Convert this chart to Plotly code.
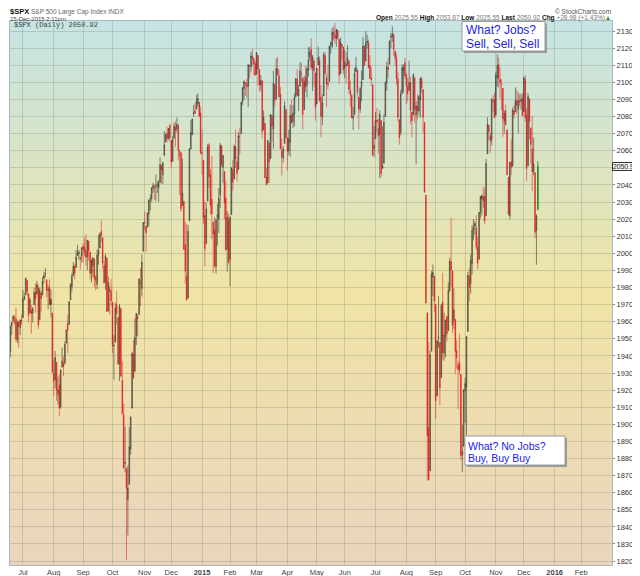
import pandas as pd
import plotly.graph_objects as go

# market holidays (trading days are weekdays minus these)
holidays = ["2014-07-04", "2014-09-01", "2014-11-27", "2014-12-25",
            "2015-01-01", "2015-01-19", "2015-02-16", "2015-04-03",
            "2015-05-25", "2015-07-03", "2015-09-07", "2015-11-26",
            "2015-12-25", "2016-01-01", "2016-01-18", "2016-02-15"]

first_day = "2014-06-18"
last_day = "2015-12-15"
prev_close = 1941.99  # close on 2014-06-17

opens = [
    # Jun 2014
    1942.7, 1957.5, 1960.5, 1962.9, 1961.9, 1949.3, 1959.9, 1956.6, 1960.8,
    # Jul
    1962.3, 1973.1, 1975.9, 1984.2, 1976.4, 1965.1, 1966.7, 1965.0, 1969.9, 1977.4, 1976.4,
    1979.8, 1961.5, 1976.9, 1975.6, 1985.3, 1988.1, 1984.6, 1978.3, 1980.0, 1973.2, 1965.1,
    # Aug
    1929.8, 1926.0, 1936.3, 1917.3, 1923.0, 1910.4, 1933.4, 1935.7, 1935.6, 1947.4, 1958.9,
    1958.4, 1972.7, 1980.5, 1986.8, 1992.6, 1991.7, 1998.6, 2000.5, 1997.4, 1998.5,
    # Sep
    2004.1, 2003.6, 2001.7, 1998.0, 2007.2, 2000.7, 1988.4, 1992.9, 1996.7, 1986.0, 1981.9,
    1999.3, 2003.1, 2012.7, 2009.1, 1992.8, 1983.3, 1997.3, 1966.2, 1978.96, 1978.2,
    # Oct
    1971.4, 1945.8, 1948.1, 1970.0, 1962.4, 1935.6, 1967.7, 1925.6, 1905.7, 1877.1, 1874.2,
    1855.95, 1864.9, 1885.6, 1909.4, 1941.3, 1931.0, 1951.6, 1962.97, 1964.1, 1983.3, 1979.5, 2001.2,
    # Nov
    2018.2, 2015.8, 2015.3, 2023.3, 2032.0, 2032.0, 2038.2, 2037.8, 2039.2, 2039.7, 2038.3,
    2041.5, 2051.2, 2045.9, 2057.5, 2065.1, 2070.1, 2067.4, 2074.8,
    # Dec
    2065.8, 2053.8, 2067.5, 2073.6, 2072.8, 2074.8, 2056.6, 2058.9, 2027.9, 2030.4, 2005.0,
    1986.7, 1973.8, 2018.98, 2061.0, 2069.3, 2081.5, 2083.3, 2084.3, 2087.6, 2088.5, 2082.1,
    # Jan 2015
    2058.9, 2054.4, 2022.2, 2005.6, 2030.6, 2063.5, 2046.1, 2031.6, 2018.4, 2013.8, 1992.3,
    2020.8, 2020.2, 2034.3, 2062.98, 2050.4, 2047.9, 2032.3, 2002.5, 2019.4,
    # Feb
    1996.7, 2022.7, 2048.9, 2043.5, 2062.3, 2053.5, 2049.4, 2068.6, 2069.98, 2088.8, 2096.5,
    2099.2, 2099.3, 2097.7, 2109.8, 2109.1, 2115.3, 2113.9, 2110.9,
    # Mar
    2105.2, 2115.8, 2107.7, 2098.5, 2100.9, 2072.3, 2076.1, 2044.7, 2041.1, 2064.6, 2055.4,
    2080.6, 2072.8, 2098.7, 2090.3, 2107.99, 2103.9, 2093.1, 2059.9, 2055.8, 2064.1, 2084.1,
    # Apr
    2067.6, 2060.0, 2064.9, 2080.8, 2076.9, 2081.3, 2091.5, 2102.0, 2092.3, 2097.8, 2105.0,
    2102.6, 2084.1, 2102.8, 2098.3, 2107.2, 2114.8, 2119.3, 2108.4, 2112.5, 2105.5,
    # May
    2087.4, 2110.2, 2112.6, 2091.3, 2079.96, 2092.1, 2115.6, 2102.9, 2099.6, 2100.4, 2122.1,
    2121.3, 2129.5, 2127.8, 2125.6, 2130.4, 2125.3, 2105.1, 2122.3, 2120.7,
    # Jun
    2108.6, 2110.4, 2110.6, 2112.4, 2095.1, 2092.3, 2079.1, 2081.1, 2106.2, 2107.4, 2091.3,
    2084.3, 2097.4, 2101.6, 2121.1, 2112.5, 2123.2, 2123.2, 2109.96, 2102.6, 2098.6, 2061.2,
    # Jul
    2067.0, 2078.0, 2073.0, 2069.5, 2077.7, 2049.7, 2052.7, 2080.0, 2099.7, 2109.0, 2110.6,
    2126.8, 2126.9, 2127.6, 2118.2, 2114.2, 2102.2, 2078.2, 2070.8, 2093.5, 2106.8, 2111.6,
    # Aug
    2104.5, 2097.7, 2095.3, 2100.1, 2082.6, 2080.98, 2102.7, 2081.1, 2086.2, 2083.2, 2089.7,
    2101.8, 2095.7, 2076.6, 2034.1, 1965.2, 1898.1, 1872.8, 1942.8, 1986.1, 1986.7,
    # Sep
    1970.1, 1916.5, 1950.8, 1947.8, 1927.3, 1971.5, 1941.6, 1951.5, 1963.1, 1955.1, 1978.0,
    1995.3, 1989.7, 1960.8, 1961.4, 1943.2, 1934.8, 1935.9, 1929.2, 1881.9, 1887.1,
    # Oct
    1919.7, 1921.8, 1954.3, 1986.6, 1982.3, 1994.0, 2013.7, 2015.7, 2015.0, 2003.7, 1996.5,
    2024.4, 2031.7, 2033.1, 2033.5, 2021.9, 2058.2, 2075.1, 2068.8, 2066.5, 2088.4, 2090.0,
    # Nov
    2080.8, 2102.6, 2110.6, 2101.7, 2098.6, 2096.6, 2077.2, 2083.4, 2072.3, 2044.6, 2022.1,
    2053.7, 2051.0, 2083.7, 2082.8, 2089.4, 2084.4, 2089.3, 2088.8, 2090.95,
    # Dec
    2082.9, 2101.7, 2080.7, 2051.2, 2090.4, 2073.4, 2061.2, 2047.9, 2047.3, 2013.4, 2025.55,
]

highs = [
    1957.7, 1959.9, 1963.9, 1963.7, 1968.2, 1960.8, 1959.9, 1961.5, 1964.2,
    1978.6, 1976.7, 1985.6, 1984.2, 1976.4, 1974.2, 1969.8, 1968.7, 1979.9, 1982.5, 1983.9,
    1981.8, 1979.9, 1976.9, 1986.2, 1989.2, 1991.4, 1984.6, 1981.5, 1984.8, 1978.9, 1965.1,
    1937.4, 1942.9, 1936.3, 1927.9, 1928.9, 1932.4, 1944.9, 1939.7, 1948.4, 1955.2, 1964.0,
    1971.99, 1982.6, 1988.6, 1994.8, 1993.5, 2001.95, 2005.0, 2002.1, 1998.6, 2003.4,
    2006.1, 2009.3, 2011.2, 2007.8, 2007.2, 2001.0, 1996.7, 1997.7, 1996.7, 1987.2, 2002.3,
    2010.7, 2012.3, 2019.3, 2009.1, 1995.4, 1999.8, 1997.3, 1986.4, 1981.3, 1985.2,
    1971.4, 1952.3, 1971.2, 1977.8, 1962.4, 1970.4, 1967.7, 1936.98, 1912.1, 1898.7, 1874.2,
    1876.0, 1898.2, 1905.0, 1942.45, 1949.3, 1961.95, 1965.3, 1964.6, 1985.1, 1991.4, 1999.4, 2018.2,
    2024.5, 2015.98, 2023.8, 2031.6, 2034.3, 2038.7, 2041.3, 2040.3, 2046.2, 2042.2, 2043.1,
    2056.1, 2052.1, 2053.8, 2071.5, 2070.2, 2074.2, 2073.3, 2075.8,
    2065.8, 2068.8, 2076.3, 2077.3, 2079.5, 2075.8, 2060.6, 2058.9, 2055.5, 2030.4, 2018.7,
    2016.9, 2016.8, 2061.3, 2077.9, 2078.8, 2086.7, 2087.6, 2092.7, 2093.6, 2088.5, 2085.6,
    2072.4, 2054.4, 2030.3, 2029.6, 2064.1, 2064.4, 2049.3, 2056.9, 2018.4, 2021.4, 2020.5,
    2028.9, 2038.3, 2064.6, 2062.98, 2057.6, 2047.9, 2042.5, 2024.6, 2023.3,
    2021.7, 2050.3, 2054.7, 2063.6, 2072.4, 2056.2, 2070.9, 2073.5, 2088.5, 2097.0, 2101.3,
    2100.2, 2102.1, 2110.6, 2110.1, 2117.9, 2119.6, 2113.9, 2112.7,
    2117.5, 2115.8, 2107.7, 2104.3, 2100.9, 2083.5, 2076.1, 2050.1, 2066.4, 2064.6, 2081.4,
    2080.6, 2106.9, 2098.7, 2113.9, 2114.9, 2107.6, 2097.4, 2067.1, 2062.8, 2088.97, 2084.1,
    2067.6, 2072.2, 2086.99, 2089.8, 2086.7, 2093.3, 2102.6, 2107.7, 2098.6, 2111.9, 2111.3,
    2102.6, 2103.9, 2109.6, 2108.9, 2120.5, 2120.9, 2125.9, 2116.0, 2113.7, 2105.5,
    2108.4, 2120.95, 2115.2, 2098.4, 2092.9, 2117.7, 2117.7, 2105.1, 2110.2, 2121.5, 2123.9,
    2131.8, 2133.0, 2134.7, 2131.4, 2130.4, 2125.3, 2126.2, 2122.3, 2120.7,
    2119.2, 2117.6, 2121.9, 2112.9, 2100.99, 2093.0, 2085.6, 2108.5, 2115.0, 2107.4, 2091.3,
    2097.4, 2106.8, 2126.7, 2121.6, 2129.87, 2128.0, 2125.1, 2116.0, 2108.9, 2098.6, 2074.3,
    2082.8, 2085.1, 2078.6, 2083.7, 2077.7, 2074.3, 2081.3, 2100.7, 2111.98, 2114.1, 2124.4,
    2128.9, 2132.8, 2128.9, 2118.5, 2116.9, 2106.0, 2078.2, 2095.6, 2110.6, 2110.5, 2114.2,
    2105.7, 2102.5, 2112.7, 2103.3, 2082.6, 2105.4, 2102.7, 2089.1, 2092.9, 2092.5, 2102.9,
    2103.5, 2096.2, 2076.6, 2034.1, 1965.2, 1948.0, 1943.1, 1989.6, 1993.5, 1986.7,
    1970.1, 1948.9, 1975.0, 1947.8, 1970.4, 1988.6, 1965.3, 1961.1, 1963.1, 1983.2, 1997.3,
    2020.9, 1989.7, 1979.6, 1961.4, 1949.5, 1937.2, 1952.9, 1929.2, 1899.5, 1920.5,
    1927.2, 1951.4, 1989.2, 1991.6, 1999.3, 2016.5, 2020.1, 2018.7, 2022.3, 2009.6, 2024.2,
    2033.5, 2034.5, 2039.1, 2037.97, 2055.2, 2079.7, 2075.1, 2070.4, 2090.4, 2092.5, 2094.3,
    2106.2, 2116.5, 2114.6, 2108.8, 2101.9, 2096.6, 2083.7, 2086.9, 2072.3, 2044.6, 2053.2,
    2066.7, 2085.3, 2086.7, 2097.1, 2095.6, 2094.1, 2093.0, 2093.3, 2093.8,
    2103.4, 2104.3, 2085.0, 2093.8, 2090.4, 2073.4, 2080.3, 2067.7, 2047.3, 2022.9, 2053.87,
]

lows = [
    1939.3, 1952.3, 1959.2, 1958.2, 1948.3, 1947.5, 1944.7, 1952.2, 1958.2,
    1962.3, 1972.6, 1975.9, 1974.9, 1959.5, 1965.1, 1952.9, 1959.6, 1969.9, 1965.3, 1975.7,
    1955.6, 1960.8, 1965.8, 1975.6, 1982.4, 1985.8, 1974.4, 1967.3, 1969.9, 1962.4, 1930.0,
    1916.4, 1921.2, 1913.8, 1911.5, 1904.8, 1909.0, 1933.4, 1928.3, 1935.6, 1947.4, 1941.5,
    1958.4, 1972.7, 1977.7, 1986.8, 1984.8, 1991.7, 1998.6, 1996.2, 1990.5, 1994.6,
    1994.9, 1998.1, 1992.5, 1990.1, 1995.6, 1984.6, 1982.99, 1985.9, 1980.3, 1978.5, 1979.1,
    1993.3, 2003.1, 2006.6, 1991.0, 1982.4, 1978.6, 1965.99, 1966.2, 1964.0, 1968.96,
    1941.7, 1926.0, 1948.1, 1958.4, 1935.1, 1925.3, 1927.6, 1906.05, 1874.1, 1871.8, 1820.66,
    1835.0, 1864.9, 1882.3, 1909.4, 1926.8, 1931.0, 1946.3, 1951.4, 1964.1, 1969.0, 1974.75, 2001.2,
    2013.7, 2001.0, 2015.3, 2015.9, 2025.1, 2030.2, 2035.3, 2031.3, 2030.4, 2035.2, 2030.2,
    2041.5, 2040.4, 2040.5, 2056.8, 2065.1, 2064.8, 2066.4, 2065.1,
    2049.6, 2053.8, 2066.7, 2062.3, 2070.8, 2054.3, 2034.2, 2024.3, 2027.9, 2002.3, 1982.3,
    1972.6, 1973.8, 2018.98, 2061.0, 2069.3, 2079.8, 2081.8, 2084.3, 2085.8, 2079.5, 2057.9,
    2046.0, 2017.3, 1992.4, 2005.6, 2030.6, 2038.3, 2022.6, 2008.3, 1988.4, 1991.5, 1988.1,
    2004.5, 2012.0, 2026.4, 2050.5, 2040.97, 2019.9, 2001.5, 1989.2, 1993.4,
    1980.9, 2022.7, 2036.7, 2043.5, 2049.97, 2041.9, 2048.6, 2057.99, 2069.98, 2086.7, 2089.8,
    2092.2, 2090.8, 2085.4, 2102.5, 2105.9, 2109.9, 2103.8, 2103.8,
    2104.5, 2098.3, 2094.5, 2095.2, 2067.3, 2072.2, 2044.1, 2039.7, 2041.1, 2041.2, 2055.4,
    2065.1, 2061.2, 2085.6, 2090.3, 2104.4, 2091.5, 2061.0, 2045.5, 2052.96, 2064.1, 2067.0,
    2048.4, 2057.3, 2056.5, 2076.1, 2073.3, 2074.3, 2091.5, 2092.3, 2083.2, 2097.8, 2100.0,
    2072.4, 2084.1, 2094.4, 2091.1, 2103.2, 2112.8, 2107.0, 2094.9, 2097.4, 2077.6,
    2087.4, 2110.2, 2088.5, 2067.9, 2074.99, 2092.1, 2104.6, 2085.4, 2096.0, 2100.4, 2116.8,
    2120.0, 2124.5, 2122.6, 2120.9, 2125.1, 2099.2, 2105.1, 2112.8, 2104.9,
    2102.5, 2099.1, 2109.6, 2093.2, 2085.7, 2079.1, 2072.1, 2081.1, 2106.2, 2091.3, 2072.5,
    2082.1, 2088.9, 2101.6, 2109.5, 2112.5, 2119.9, 2108.2, 2102.0, 2098.0, 2056.6, 2056.3,
    2067.0, 2071.0, 2058.4, 2044.0, 2044.5, 2049.7, 2052.7, 2080.0, 2095.0, 2102.5, 2110.6,
    2119.9, 2123.7, 2115.4, 2110.0, 2098.6, 2077.1, 2063.5, 2069.1, 2093.5, 2094.1, 2102.1,
    2087.3, 2088.6, 2095.3, 2075.5, 2067.9, 2080.98, 2076.5, 2052.1, 2078.3, 2080.6, 2079.3,
    2094.1, 2070.5, 2035.7, 1970.8, 1867.0, 1867.1, 1872.8, 1942.8, 1975.2, 1965.98,
    1903.1, 1916.5, 1944.7, 1911.2, 1927.3, 1937.9, 1937.2, 1939.2, 1948.3, 1954.3, 1977.9,
    1980.5, 1953.5, 1955.8, 1929.2, 1932.6, 1908.9, 1929.0, 1879.2, 1871.9, 1887.1,
    1900.7, 1893.7, 1954.3, 1971.99, 1976.4, 1987.5, 2007.6, 2010.6, 2001.8, 1990.7, 1996.5,
    2020.5, 2022.3, 2026.6, 2017.2, 2021.9, 2058.2, 2066.5, 2058.8, 2063.1, 2082.6, 2079.1,
    2080.8, 2097.5, 2096.98, 2090.4, 2083.7, 2068.2, 2069.9, 2074.9, 2045.7, 2022.0, 2019.9,
    2045.9, 2051.0, 2078.8, 2082.8, 2081.4, 2070.3, 2086.3, 2084.1, 2080.4,
    2082.9, 2077.1, 2042.4, 2051.2, 2066.8, 2052.3, 2036.5, 2045.7, 2008.8, 1993.3, 2025.55,
]

closes = [
    1956.98, 1959.48, 1962.87, 1962.61, 1949.98, 1959.53, 1957.22, 1960.96, 1960.23,
    1973.32, 1974.62, 1985.44, 1977.65, 1963.71, 1972.83, 1964.68, 1967.57, 1977.10, 1973.28, 1981.57,
    1958.12, 1978.22, 1973.63, 1983.53, 1987.01, 1987.98, 1978.34, 1978.91, 1969.95, 1970.07, 1930.67,
    1925.15, 1938.99, 1920.21, 1920.24, 1909.57, 1931.59, 1936.92, 1933.75, 1946.72, 1955.18, 1955.06,
    1971.74, 1981.60, 1986.51, 1992.37, 1988.40, 1997.92, 2000.02, 2000.12, 1996.74, 2003.37,
    2002.28, 2000.72, 1997.65, 2007.71, 2001.54, 1988.44, 1995.69, 1997.45, 1985.54, 1984.13, 1998.98,
    2001.57, 2011.36, 2010.40, 1994.29, 1982.77, 1998.30, 1965.99, 1982.85, 1977.80, 1972.29,
    1946.16, 1946.17, 1967.90, 1964.82, 1935.10, 1968.89, 1928.21, 1906.13, 1874.74, 1877.70, 1862.49,
    1862.76, 1886.76, 1904.01, 1941.28, 1927.11, 1950.82, 1964.58, 1961.63, 1985.05, 1982.30, 1994.65, 2018.05,
    2017.81, 2012.10, 2023.57, 2031.21, 2031.92, 2038.26, 2039.68, 2038.25, 2039.33, 2039.82, 2041.32,
    2051.80, 2048.72, 2052.75, 2063.50, 2069.41, 2067.03, 2072.83, 2067.56,
    2053.44, 2066.55, 2074.33, 2071.92, 2075.37, 2060.31, 2059.82, 2026.14, 2035.33, 2002.33, 1989.63,
    1972.74, 2012.89, 2061.23, 2070.65, 2078.54, 2082.17, 2081.88, 2088.77, 2090.57, 2080.35, 2058.90,
    2058.20, 2020.58, 2002.61, 2025.90, 2062.14, 2044.81, 2028.26, 2023.03, 2011.27, 1992.67, 2019.42,
    2022.55, 2032.12, 2063.15, 2051.82, 2057.09, 2029.55, 2002.16, 2021.25, 1994.99,
    2020.85, 2050.03, 2041.51, 2062.52, 2055.47, 2046.74, 2068.59, 2068.53, 2088.48, 2096.99, 2100.34,
    2099.68, 2097.45, 2110.30, 2109.66, 2115.48, 2113.86, 2110.74, 2104.50,
    2117.39, 2107.78, 2098.53, 2101.04, 2071.26, 2079.43, 2044.16, 2040.24, 2065.95, 2053.40, 2081.19,
    2074.28, 2099.50, 2089.27, 2108.10, 2104.42, 2091.50, 2061.05, 2056.15, 2061.02, 2086.24, 2067.89,
    2059.69, 2066.96, 2080.62, 2076.33, 2081.90, 2091.18, 2102.06, 2092.43, 2095.84, 2106.63, 2104.99,
    2081.18, 2100.40, 2097.29, 2107.96, 2112.93, 2117.69, 2108.92, 2114.76, 2106.85, 2085.51,
    2108.29, 2114.49, 2089.46, 2080.15, 2088.00, 2116.10, 2105.33, 2099.12, 2098.48, 2121.10, 2122.73,
    2129.20, 2127.83, 2125.85, 2130.82, 2126.06, 2104.20, 2123.48, 2120.79, 2107.39,
    2111.73, 2109.60, 2114.07, 2095.84, 2092.83, 2079.28, 2080.15, 2105.20, 2108.86, 2094.11, 2084.43,
    2096.29, 2100.44, 2121.24, 2109.99, 2122.85, 2124.20, 2108.58, 2102.31, 2101.49, 2057.64, 2063.11,
    2077.42, 2076.78, 2068.76, 2081.34, 2046.68, 2051.31, 2076.62, 2099.60, 2108.95, 2107.40, 2124.29,
    2126.64, 2128.28, 2119.21, 2114.15, 2102.15, 2079.65, 2067.64, 2093.25, 2108.57, 2108.63, 2103.84,
    2098.04, 2093.32, 2099.84, 2083.56, 2077.57, 2104.18, 2084.07, 2086.05, 2083.39, 2091.54, 2102.44,
    2096.92, 2079.61, 2035.73, 1970.89, 1893.21, 1867.61, 1940.51, 1987.66, 1988.87, 1972.18,
    1913.85, 1948.86, 1951.13, 1921.22, 1969.41, 1942.04, 1952.29, 1961.05, 1953.03, 1978.09, 1995.31,
    1990.20, 1958.03, 1966.97, 1942.74, 1938.76, 1932.24, 1931.34, 1881.77, 1884.09, 1920.03,
    1923.82, 1951.36, 1987.05, 1979.92, 1995.83, 2013.43, 2014.89, 2017.46, 2003.69, 1994.24, 2023.86,
    2033.11, 2033.66, 2030.77, 2018.94, 2052.51, 2075.15, 2071.18, 2065.89, 2090.35, 2089.41, 2079.36,
    2104.05, 2109.79, 2102.31, 2099.93, 2099.20, 2078.58, 2081.72, 2075.00, 2045.97, 2023.04, 2053.19,
    2050.44, 2083.58, 2081.24, 2089.17, 2086.59, 2089.14, 2088.87, 2090.11, 2080.41,
    2102.63, 2079.51, 2049.62, 2091.69, 2077.07, 2063.59, 2047.62, 2052.23, 2012.37, 2021.94, 2050.92,
]

month_ticks = ["2014-07-01", "2014-08-01", "2014-09-02", "2014-10-01", "2014-11-03",
               "2014-12-01", "2015-01-02", "2015-02-02", "2015-03-02", "2015-04-01",
               "2015-05-01", "2015-06-01", "2015-07-01", "2015-08-03", "2015-09-01",
               "2015-10-01", "2015-11-02", "2015-12-01", "2016-01-04", "2016-02-01"]
month_labels = ["Jul", "Aug", "Sep", "Oct", "Nov", "Dec", "<b>2015</b>", "Feb", "Mar", "Apr",
                "May", "Jun", "Jul", "Aug", "Sep", "Oct", "Nov", "Dec", "<b>2016</b>", "Feb"]

price_ticks = [1820, 1830, 1840, 1850, 1860, 1870, 1880, 1890, 1900, 1910, 1920,
               1930, 1940, 1950, 1960, 1970, 1980, 1990, 2000, 2010, 2020, 2030,
               2040, 2050, 2060, 2070, 2080, 2090, 2100, 2110, 2120, 2130]

dates = [d for d in pd.bdate_range(first_day, last_day) if d.strftime("%Y-%m-%d") not in holidays]

# the page body adds an 8px offset, so the figure is drawn 8px smaller
# and everything below is laid out in window pixels
OFF = 8
W, H = 640, 576
PL, PR, PT, PB = 10, 612, 21, 565   # plot area in window pixels


def px(x):
    return (x - PL) / (PR - PL)


def py(y):
    return (PB - y) / (PB - PT)


def mix(c1, c2, t):
    return tuple(round(a + (b - a) * t) for a, b in zip(c1, c2))


fig = go.Figure()

n = len(dates)
# stockcharts style: colour from close vs previous close, hollow/filled from close vs open
before = [prev_close] + closes[:-1]
black_idx = [i for i in range(n - 1) if closes[i] >= before[i]]
red_idx = [i for i in range(n - 1) if closes[i] < before[i]]


def pick(seq, idx):
    return [seq[i] for i in idx]


for idx, line_c, body_c, hollow_c in [
        (black_idx, "rgba(40,40,30,0.55)", "#111111", "rgba(40,40,30,0.35)"),
        (red_idx, "rgba(225,30,30,0.55)", "#e00000", "rgba(225,30,30,0.35)")]:
    fig.add_trace(go.Candlestick(
        x=pick(dates, idx), open=pick(opens, idx), high=pick(highs, idx),
        low=pick(lows, idx), close=pick(closes, idx),
        increasing=dict(line=dict(color=line_c, width=1), fillcolor=hollow_c),
        decreasing=dict(line=dict(color=line_c, width=1), fillcolor=body_c),
        whiskerwidth=0, showlegend=False, hoverinfo="skip",
    ))
fig.add_trace(go.Candlestick(
    x=dates[n - 1:], open=opens[n - 1:], high=highs[n - 1:], low=lows[n - 1:], close=closes[n - 1:],
    increasing=dict(line=dict(color="#2f8f2f", width=1), fillcolor="#2f8f2f"),
    decreasing=dict(line=dict(color="#2f8f2f", width=1), fillcolor="#2f8f2f"),
    whiskerwidth=0, showlegend=False, hoverinfo="skip",
))

# gradient background
bottom_c, mid_c, top_c = (234, 212, 190), (239, 228, 165), (197, 228, 228)
shapes = []
bands = 90
for i in range(bands):
    t = (i + 0.5) / bands
    if t < 0.5:
        c = mix(bottom_c, mid_c, t / 0.5)
    else:
        c = mix(mid_c, top_c, (t - 0.5) / 0.5)
    shapes.append(dict(type="rect", xref="x domain", yref="y domain", x0=0, x1=1,
                       y0=i / bands, y1=(i + 1) / bands + 0.002, layer="below",
                       line=dict(width=0), fillcolor="rgb(%d,%d,%d)" % c))

# note boxes with shadow
for (x0, y0, x1, y1) in [(462, 21.5, 545, 51), (465, 436, 565, 465)]:
    shapes.append(dict(type="rect", xref="paper", yref="paper",
                       x0=px(x0 + 2), x1=px(x1 + 2), y0=py(y1 + 2), y1=py(y0 + 2),
                       line=dict(width=0), fillcolor="#9a9a9a"))
    shapes.append(dict(type="rect", xref="paper", yref="paper",
                       x0=px(x0), x1=px(x1), y0=py(y1), y1=py(y0),
                       line=dict(color="#9a9a9a", width=1), fillcolor="white"))

annotations = []


def note(text, x, y, size, color="#333", anchor="left", family="Liberation Sans"):
    annotations.append(dict(text=text, xref="paper", yref="paper", x=px(x), y=py(y),
                            xanchor=anchor, yanchor="middle", showarrow=False, borderpad=0,
                            font=dict(size=size, color=color, family=family)))


chg = closes[-1] - closes[-2]
pct = chg / closes[-2] * 100

note("<b>$SPX</b>", 8.5, 12, 7.5, "#111")
note("S&P 500 Large Cap Index INDX", 30, 12, 6.5, "#666")
note("15-Dec-2015 2:11pm", 8.5, 18.6, 6, "#444")
note("$SPX (Daily) %.2f" % closes[-1], 13, 25, 7, "#444", family="Liberation Mono")
note("© StockCharts.com", 612, 11.5, 6.5, "#555", anchor="right")
note("<b>Open</b> <span style='color:#777'>%.2f</span> <b>High</b> <span style='color:#777'>%.2f</span> "
     "<b>Low</b> <span style='color:#777'>%.2f</span> <b>Last</b> <span style='color:#777'>%.2f</span> "
     "<b>Chg</b> <span style='color:#777'>%+.2f (%+.2f%%)</span><span style='color:#2f8f2f'>▲</span>"
     % (opens[-1], highs[-1], lows[-1], closes[-1], chg, pct), 612, 18.4, 6.5, "#111", anchor="right")

note("What? Jobs?", 464.5, 30.5, 12, "#2222ee")
note("Sell, Sell, Sell", 464.5, 43.5, 12, "#2222ee")
note("What? No Jobs?", 466.5, 445.5, 10.5, "#2222ee")
note("Buy, Buy Buy", 466.5, 457.5, 10.5, "#2222ee")

# last price tag on the price scale (it covers the tick label underneath)
annotations.append(dict(text="%.2f" % closes[-1], xref="paper", yref="y", x=px(639), y=closes[-1],
                        xanchor="right", yanchor="middle", showarrow=False,
                        font=dict(size=6.8, color="#222", family="Liberation Sans"),
                        bgcolor="#eef4f4", bordercolor="#333", borderwidth=1, borderpad=0))
price_text = ["" if abs(v - closes[-1]) < 6 else str(v) for v in price_ticks]

grid_c = "rgba(120,130,110,0.28)"
frame_c = "#a9b9c0"

fig.update_layout(
    width=W - OFF, height=H - OFF,
    margin=dict(l=PL - OFF, r=W - PR, t=PT - OFF, b=H - PB, autoexpand=False),
    paper_bgcolor="white", plot_bgcolor="rgba(0,0,0,0)",
    shapes=shapes, annotations=annotations,
    font=dict(family="Liberation Sans", size=8, color="#333"),
)
fig.update_xaxes(
    type="date", range=["2014-06-17 18:00", "2016-03-03"],
    rangebreaks=[dict(bounds=["sat", "mon"]), dict(values=holidays)],
    rangeslider=dict(visible=False), automargin=False,
    tickvals=month_ticks, ticktext=month_labels, tickfont=dict(size=7.5, color="#444"),
    showgrid=True, gridcolor=grid_c, gridwidth=1,
    showline=True, linecolor=frame_c, mirror=True, ticks="",
    fixedrange=True,
)
fig.update_yaxes(
    side="right", range=[1817.7, 2135.9], automargin=False,
    tickvals=price_ticks, ticktext=price_text,
    tickfont=dict(size=7.5, color="#333"), ticks="outside", ticklen=2, tickcolor="#888",
    showgrid=True, gridcolor=grid_c, gridwidth=1,
    showline=True, linecolor=frame_c, mirror=True, zeroline=False,
    fixedrange=True,
)

fig.write_html("out.html")
